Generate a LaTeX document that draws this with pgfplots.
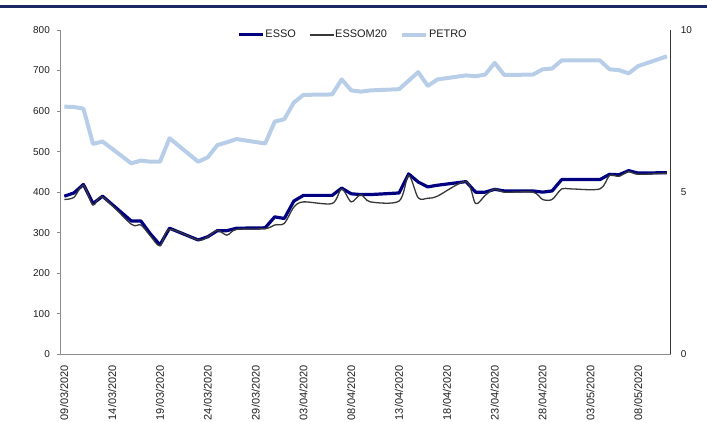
\documentclass[border=0pt]{standalone}
\usepackage{pgfplots}
\pgfplotsset{compat=1.18}
\usepackage{fontspec}
\setmainfont{Liberation Sans}
\definecolor{essoblue}{RGB}{0,0,128}
\definecolor{petro}{RGB}{184,206,232}
\definecolor{mtwenty}{RGB}{55,55,55}
\definecolor{topbar}{RGB}{28,40,100}
\definecolor{axisgray}{RGB}{140,140,140}
\definecolor{labelc}{RGB}{30,30,30}

\pgfplotstableread{
d esso m20 petro
0 390 382 611
1 398 387 610
2 419 417 606
3 372 368 519
4 390 388 525
7 329 321 471
8 329 319 478
9 297 292 475
10 270 268 475
11 311 308 533
14 282 282 475
15 290 290 486
16 305 306 516
17 305 294 523
18 311 308 531
21 312 310 520
22 339 319 574
23 335 323 580
24 378 363 621
25 392 376 640
28 392 372 641
29 410 408 678
30 396 376 651
31 394 394 648
32 394 376 651
35 398 378 654
36 445 441 675
37 425 386 696
38 413 385 662
39 417 390 678
42 426 426 688
43 400 372 686
44 400 392 690
45 407 408 719
46 403 400 689
49 403 400 690
50 400 382 703
51 403 382 705
52 431 408 725
53 431 408 725
56 431 408 725
57 444 441 703
58 443 439 701
59 453 451 693
60 447 444 711
63 448 447 735
}\datatable

\begin{document}
\begin{tikzpicture}
\path[use as bounding box] (-60bp,-67.7bp) rectangle (647bp,354.3bp);
\draw[topbar, line width=2.8bp] (-60bp,347.8bp) -- (647bp,347.8bp);
\begin{axis}[
  at={(0,0)}, anchor=south west,
  scale only axis, width=610.7bp, height=324.3bp,
  xmin=-0.45, xmax=63.4, ymin=0, ymax=800,
  axis x line*=bottom, axis y line*=left,
  axis line style={axisgray, line width=0.8bp},
  xtick={0,5,...,60},
  xticklabels={09/03/2020,14/03/2020,19/03/2020,24/03/2020,29/03/2020,03/04/2020,08/04/2020,13/04/2020,18/04/2020,23/04/2020,28/04/2020,03/05/2020,08/05/2020},
  x tick label style={rotate=90, anchor=east, inner sep=0pt, font=\fontsize{11}{13}\selectfont, text=labelc},
  xticklabel shift=7.5bp,
  x tick style={draw=none},
  ytick={0,100,...,800},
  y tick style={axisgray, line width=0.8bp},
  tick align=outside, major tick length=3.3bp,
  y tick label style={inner sep=0pt, font=\fontsize{10}{12}\selectfont, text=labelc},
  yticklabel shift=6.7bp,
  tick label style={/pgf/number format/assume math mode=true},
  legend style={at={(0.479,0.985)}, anchor=center, draw=none, fill=none,
    legend columns=-1, font=\fontsize{11}{13}\selectfont, text=labelc,
    nodes={inner sep=1bp},
    /tikz/every even column/.append style={column sep=12bp}},
  legend image code/.code={\draw[#1] (0bp,0bp) -- (24bp,0bp);},
  clip=false,
]
\addplot[essoblue, line width=3.2bp, line join=round] table[x=d, y=esso] {\datatable};
\addlegendentry{ESSO}
\addplot[mtwenty, line width=1.3bp, smooth, tension=0.5] table[x=d, y=m20] {\datatable};
\addlegendentry{ESSOM20}
\addplot[petro, line width=4bp, line join=round] table[x=d, y=petro] {\datatable};
\addlegendentry{PETRO}
\end{axis}
\begin{axis}[
  at={(0,0)}, anchor=south west,
  scale only axis, width=610.7bp, height=324.3bp,
  xmin=-0.45, xmax=63.4, ymin=0, ymax=10,
  axis x line=none, axis y line*=right,
  axis line style={mtwenty, line width=0.8bp},
  ytick={0,5,10},
  y tick style={draw=none},
  y tick label style={inner sep=0pt, font=\fontsize{10}{12}\selectfont, text=labelc},
  yticklabel shift=10bp,
  tick label style={/pgf/number format/assume math mode=true},
]
\addplot[draw=none] coordinates {(0,0)};
\end{axis}
\end{tikzpicture}
\end{document}
